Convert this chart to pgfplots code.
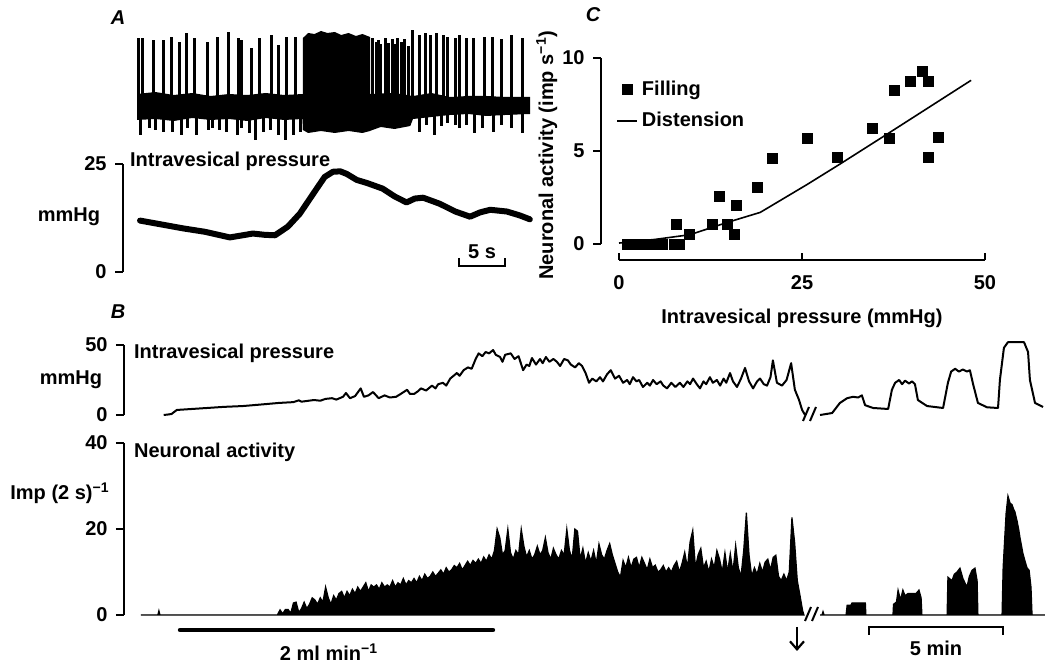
\documentclass[border=0pt]{standalone}
\usepackage{pgfplots}
\pgfplotsset{compat=1.18}
\usepackage{fontspec}
\setmainfont{Liberation Sans}
\usetikzlibrary{arrows.meta}

\newcommand{\lab}{\fontsize{10}{12}\selectfont\bfseries}

\pgfplotsset{
  trace/.style={scale only axis, clip=false, anchor=south west,
    axis line style={line width=1.2pt, -},
    tick style={black, line width=1.2pt},
    tick label style={font=\lab},
    label style={font=\lab},
    /pgf/number format/assume math mode=true},
  bracket/.style={trace, axis x line=none, axis y line*=left,
    tick align=outside, major tick length=4pt,
    yticklabel style={anchor=east, inner sep=0pt, xshift=-4pt}},
  bare/.style={trace, axis lines=none},
  sqlegend/.style={legend image code/.code={\draw[##1, mark repeat=2, mark phase=2]
    plot coordinates {(0pt,0pt) (5pt,0pt) (10pt,0pt)};}},
  linelegend/.style={legend image code/.code={\draw[##1] (0pt,0pt) -- (10pt,0pt);}},
}

\begin{document}
\begin{tikzpicture}
\useasboundingbox (0pt,0pt) rectangle (523pt,-331pt);

% ---------- A: spike train (time in s, amplitude arbitrary) ----------
\begin{axis}[bare, at={(68.5pt,-73pt)}, width=196.5pt, height=60pt,
  xmin=0, xmax=42.72, ymin=-40, ymax=80]
% noise band
\addplot[fill=black, draw=none] coordinates {
  (0,12) (2,14) (4,11) (6,13) (8,10) (10,12) (12,11) (14,13) (16,11) (18.04,12)
  (25.3,12) (28,13) (30,10) (32,13) (34,9) (36,10) (38,10) (40,9) (42,9) (42.72,9)
  (42.72,-8) (40,-9) (38,-10) (36,-8) (34,-9) (32,-11) (30,-13) (29.7,-20)
  (28,-23) (26.5,-21) (25.3,-25) (18.04,-24) (18,-13) (16,-14) (14,-12) (12,-15)
  (10,-13) (8,-14) (6,-12) (4,-15) (2,-13) (0,-14)};
% dense burst
\addplot[fill=black, draw=none] coordinates {
  (18.04,-24) (18.04,68) (18.6,73) (19.3,72) (20,75) (20.7,73) (21.5,74) (22.2,71)
  (23,73) (23.8,70) (24.5,72) (25.33,69) (25.33,-25) (24.5,-27) (23,-25)
  (21.5,-27) (20,-25) (18.6,-27)};
% upward spikes
\addplot[ycomb, line width=1.5pt] table {
  t h
  0.11 68
  0.65 68
  1.74 66
  2.83 66
  3.80 69
  4.57 64
  5.43 73
  6.30 68
  7.61 64
  8.80 69
  10.00 74
  10.98 68
  11.41 66
  12.50 58
  13.37 68
  14.67 71
  15.33 61
  16.30 69
  17.28 69
  25.65 68
  25.98 64
  26.20 66
  26.52 62
  26.96 68
  27.30 63
  27.72 67
  28.05 62
  28.37 68
  28.70 64
  29.13 67
  29.55 60
  30.00 76
  30.76 71
  31.41 73
  31.85 71
  32.61 73
  33.37 71
  33.80 69
  34.57 68
  35.11 71
  35.87 68
  36.63 68
  37.72 69
  38.59 69
  39.57 67
  40.76 71
  41.85 68
};
% downward spikes
\addplot[ycomb, line width=1.5pt] table {
  t d
  0.33 -29
  1.41 -22
  1.96 -24
  2.83 -26
  3.91 -26
  4.89 -29
  5.54 -22
  6.52 -29
  7.72 -24
  8.26 -22
  9.02 -24
  9.78 -26
  10.87 -29
  11.41 -22
  12.28 -27
  12.83 -34
  13.70 -26
  14.46 -24
  15.33 -29
  16.09 -34
  16.96 -29
  17.72 -26
  29.67 -19
  30.76 -26
  31.52 -19
  32.39 -29
  33.15 -20
  33.80 -17
  34.57 -19
  35.11 -22
  35.87 -19
  36.74 -27
  37.61 -22
  38.70 -26
  39.67 -19
  40.76 -22
  41.85 -27
};
\end{axis}

% ---------- A: intravesical pressure ----------
\begin{axis}[bracket, at={(61.5pt,-136pt)}, width=203.5pt, height=54pt,
  xmin=-1.52, xmax=42.72, ymin=0, ymax=25, ytick={0,25}]
\addplot[line width=3pt, line cap=round, line join=round] coordinates {
  (0.33,11.9) (5.0,10.1) (7.4,9.3) (10.1,8.0) (12.6,8.9) (13.9,8.6) (15.0,8.5)
  (16.4,10.5) (17.7,13.5) (19.6,19.5) (20.4,22.0) (21.3,23.2) (22.1,23.3)
  (22.8,22.7) (23.9,21.3) (25.0,20.6) (26.7,19.3) (28.0,17.5) (29.3,16.1)
  (30.2,17.0) (31.1,17.2) (32.9,15.8) (34.6,14.0) (36.2,12.8) (37.3,13.8)
  (38.4,14.4) (40.2,14.0) (41.6,13.1) (42.7,12.2)};
\end{axis}

% ---------- B: intravesical pressure (time in min) ----------
\begin{axis}[bracket, at={(62pt,-207.5pt)}, width=461pt, height=35pt,
  xmin=-0.522, xmax=33.88, ymin=0, ymax=50, ytick={0,50}]
\addplot[line width=1pt, line join=round] coordinates {
  (0.96,0) (1.1,0.3) (1.25,0.7) (1.45,3.6) (2.57,5) (3.2,5.8) (3.92,6.4)
  (4.6,7.5) (5.25,8.6) (5.8,9.2) (6.0,10.5) (6.1,9.5) (6.57,10.7) (6.8,10.2)
  (7.0,11.5) (7.24,12) (7.4,11) (7.65,13) (7.76,15.7) (7.91,12) (8.1,13.5)
  (8.31,19) (8.43,13) (8.6,14) (8.77,16.4) (8.98,12) (9.2,14) (9.4,12.5)
  (9.63,13) (9.8,15) (10.04,18) (10.15,15) (10.3,15) (10.45,17) (10.56,19)
  (10.75,17.5) (10.97,21) (11.1,19) (11.2,22) (11.38,23) (11.5,21) (11.65,26)
  (11.9,30) (12.0,28) (12.15,32) (12.31,34) (12.45,33) (12.6,40) (12.71,44)
  (12.85,42) (12.97,45) (13.1,44) (13.25,46.4) (13.35,43) (13.51,41.4)
  (13.6,38) (13.7,43) (13.91,44) (14.05,40) (14.2,42) (14.37,32) (14.5,36)
  (14.6,35) (14.70,40.7) (14.85,36) (15.0,40) (15.1,37) (15.22,41.4)
  (15.35,38) (15.5,40) (15.63,38) (15.75,35) (15.9,40) (16.04,39) (16.15,36)
  (16.31,34) (16.45,37) (16.57,35) (16.7,30) (16.83,23) (16.95,26) (17.1,24)
  (17.24,27) (17.35,24) (17.5,29) (17.64,32) (17.8,26) (17.95,28) (18.10,23)
  (18.25,25) (18.35,22) (18.47,27) (18.6,24) (18.7,25) (18.84,20) (19.0,23)
  (19.1,21) (19.22,25) (19.35,22) (19.5,24) (19.6,21) (19.74,19) (19.9,23)
  (20.05,20) (20.22,23) (20.35,20) (20.5,24) (20.6,22) (20.71,26) (20.85,22)
  (20.97,19) (21.1,24) (21.2,22) (21.34,27) (21.45,23) (21.6,25) (21.72,21)
  (21.85,26) (21.95,23) (22.09,30) (22.2,24) (22.35,20) (22.5,26) (22.65,33.6)
  (22.8,24) (22.95,19) (23.1,24) (23.21,26) (23.35,22) (23.47,21) (23.6,27)
  (23.69,39) (23.84,23) (24.03,21) (24.2,25) (24.37,37) (24.51,18) (24.66,11)
  (24.78,3.6) (24.89,0)};
\addplot[line width=1pt, line join=round] coordinates {
  (25.45,0) (25.90,1.4) (26.19,8.6) (26.46,12) (26.68,13) (26.87,12.5)
  (27.01,14) (27.13,7) (27.43,5) (27.99,4.3) (28.13,18) (28.25,23) (28.40,25)
  (28.51,22) (28.62,24.5) (28.77,22.5) (28.88,24) (28.99,22) (29.10,10.7)
  (29.44,6.4) (30.04,5) (30.22,23) (30.34,31) (30.49,33) (30.63,31)
  (30.78,32.5) (30.93,31) (31.04,32) (31.16,22) (31.34,8.6) (31.68,5.5)
  (32.09,5) (32.16,25) (32.31,48) (32.46,52) (33.06,52) (33.21,45) (33.28,25)
  (33.47,8.6) (33.77,5.7)};
\end{axis}

% ---------- B: neuronal activity ----------
\begin{axis}[bracket, at={(62pt,-307.5pt)}, width=461pt, height=86pt,
  xmin=-0.522, xmax=33.88, ymin=0, ymax=40, ytick={0,20,40}]
\addplot[fill=black, draw=black, line width=0.6pt, line join=miter] coordinates {
  (0.11,0) (0.74,0) (0.78,1) (0.82,0) (5.2,0)
  (5.3,1.2) (5.4,0.3) (5.5,1.3) (5.6,1.3) (5.7,0.4) (5.8,2.8) (5.9,3) (6.0,0.6)
  (6.1,1.5) (6.2,3) (6.3,1.5) (6.4,2.5) (6.5,4) (6.6,3.5) (6.7,2.5) (6.8,4)
  (6.9,3) (7.0,6.5) (7.1,4) (7.2,2.5) (7.3,4.5) (7.4,3.5) (7.5,5) (7.6,5.5)
  (7.7,4) (7.8,5.5) (7.9,4.5) (8.0,6) (8.1,5) (8.2,6.5) (8.3,5.5) (8.4,6.5)
  (8.5,7.5) (8.6,5.5) (8.7,7) (8.8,6.5) (8.9,7) (9.0,6) (9.1,7.5) (9.2,6.5)
  (9.3,7) (9.4,6.5) (9.5,8) (9.6,6.5) (9.7,7.5) (9.8,7) (9.9,8.5) (10.0,7)
  (10.1,8) (10.2,7.5) (10.3,8.5) (10.4,7.5) (10.5,9) (10.6,8) (10.7,9.5)
  (10.8,8.5) (10.9,9) (11.0,10) (11.1,9) (11.2,9.7) (11.3,10.5) (11.4,9.5)
  (11.5,11) (11.6,10) (11.7,10.5) (11.8,11.5) (11.9,11) (12.0,12) (12.1,10.5)
  (12.2,11.5) (12.3,12.5) (12.4,11.5) (12.5,12.7) (12.6,12) (12.7,13) (12.8,12)
  (12.9,13.5) (13.0,12.5) (13.1,14) (13.2,13) (13.3,15) (13.4,20) (13.5,18)
  (13.6,14) (13.7,15) (13.8,20) (13.9,14.5) (14.0,13) (14.1,15) (14.2,14)
  (14.3,20) (14.4,16) (14.5,13.5) (14.6,15) (14.7,13) (14.8,14) (14.9,16)
  (15.0,14) (15.1,15) (15.2,18) (15.3,14.5) (15.4,13) (15.5,15.5) (15.6,14)
  (15.7,13) (15.8,15) (15.9,14) (16.0,20) (16.1,15) (16.2,13) (16.3,20)
  (16.4,19.5) (16.5,13) (16.6,15.5) (16.7,12) (16.8,14.5) (16.9,12.5) (17.0,15)
  (17.1,12) (17.2,16.5) (17.3,14) (17.4,13) (17.5,15) (17.6,16.6) (17.7,14)
  (17.8,12) (17.9,10) (18.0,8.8) (18.1,12.7) (18.2,11) (18.3,13.4) (18.4,11)
  (18.5,13) (18.6,13.4) (18.7,11) (18.8,13.4) (18.9,12) (19.0,10.5) (19.1,13)
  (19.2,11) (19.3,11.6) (19.4,10) (19.5,10.5) (19.6,11.5) (19.7,10) (19.8,11)
  (19.9,10) (20.0,11.5) (20.1,12.5) (20.2,10) (20.3,12) (20.4,14.6) (20.5,11)
  (20.6,17) (20.7,19.7) (20.8,11) (20.9,14) (21.0,15.5) (21.1,11) (21.2,12.5)
  (21.3,10) (21.4,13) (21.5,11) (21.6,15) (21.7,13) (21.8,10) (21.9,14.5)
  (22.0,10) (22.1,14.3) (22.2,10) (22.3,16.2) (22.4,11) (22.5,9) (22.6,15)
  (22.7,23.8) (22.8,14) (22.9,9) (23.0,11) (23.1,9.5) (23.2,12) (23.3,10)
  (23.4,12.3) (23.5,13) (23.6,10.5) (23.7,13.4) (23.8,13.9) (23.9,9) (24.0,8)
  (24.1,9.5) (24.2,8) (24.3,10) (24.4,22.7) (24.5,17) (24.6,8) (24.7,4.6)
  (24.8,1) (24.85,0)} \closedcycle;
\addplot[fill=black, draw=black, line width=0.6pt] coordinates {
  (25.45,0) (25.52,0) (25.56,0.8) (25.60,0) (26.42,0) (26.46,2.3) (26.60,2.3)
  (26.64,2.8) (27.14,2.8) (27.16,0) (28.17,0) (28.19,2.5) (28.30,3) (28.36,5.8)
  (28.45,3.5) (28.54,5.8) (28.62,4.5) (28.73,5) (28.88,5) (29.03,5) (29.14,5.8)
  (29.22,4) (29.25,0) (30.19,0) (30.22,8.8) (30.37,8) (30.46,9.5) (30.56,10)
  (30.67,10.9) (30.78,8.5) (30.93,6.5) (31.02,9) (31.12,10.4) (31.23,10.9)
  (31.31,8) (31.34,0) (32.24,0) (32.28,11) (32.34,18) (32.39,23.6) (32.46,27.7)
  (32.54,26) (32.61,25.7) (32.68,24.5) (32.72,24) (32.80,21.9) (32.86,20)
  (32.91,18) (32.97,16) (33.02,14.3) (33.10,12.5) (33.17,11) (33.25,10.4)
  (33.32,6.5) (33.36,0) (33.84,0)} \closedcycle;
\end{axis}

% ---------- C: activity vs pressure ----------
\begin{axis}[trace, at={(300.5pt,-122pt)}, width=192pt, height=93pt,
  xmin=-2.46, xmax=50, ymin=0, ymax=10,
  axis x line=none, axis y line*=left,
  ytick={0,5,10}, tick align=outside, major tick length=4pt,
  yticklabel style={anchor=east, inner sep=0pt, xshift=-4pt},
  ylabel={Neuronal activity (imp s\textsuperscript{−1})},
  ylabel style={at={(axis description cs:-0.141,0.478)}, anchor=center},
  legend style={draw=none, fill=none, at={(axis description cs:0.039,0.90)},
    anchor=north west, font=\lab, row sep=3pt, inner sep=0pt,
    cells={anchor=west}}]
\addplot[only marks, mark=square*, mark size=2.5pt, sqlegend] coordinates {
  (1.2,0) (1.8,0) (2.4,0) (3.0,0) (3.6,0) (4.2,0) (4.8,0) (5.4,0) (5.9,0)
  (7.6,0) (8.3,0)
  (7.8,1.08) (9.6,0.54) (12.8,1.08) (13.7,2.58) (14.8,1.08) (15.8,0.54)
  (16.1,2.10) (18.9,3.06) (21.0,4.62) (25.7,5.70) (29.9,4.68) (34.6,6.24)
  (36.9,5.70) (37.6,8.28) (39.8,8.76) (41.4,9.30) (42.2,8.76) (42.2,4.68)
  (43.7,5.75)};
\addlegendentry{Filling}
\addplot[line width=0.8pt, linelegend] coordinates {
  (0,0.05) (5,0.25) (9.7,0.5) (14.7,1.15) (19.3,1.7) (25.7,3.2) (30.2,4.3)
  (36.6,5.9) (48.1,8.8)};
\addlegendentry{Distension}
\end{axis}
\begin{axis}[trace, at={(309.5pt,-130pt)}, width=183pt, height=10pt,
  xmin=0, xmax=50, ymin=0, ymax=1,
  axis y line=none, axis x line*=bottom,
  xtick={0,25,50}, tick align=inside, major tick length=3.5pt,
  xticklabel style={anchor=center, yshift=-11.5pt},
  xlabel={Intravesical pressure (mmHg)},
  xlabel style={at={(axis description cs:0.5,0)}, anchor=center, yshift=-29pt}]
\end{axis}

% ---------- annotations (pixel coordinates) ----------
\begin{scope}[x=0.5pt, y=-0.5pt]
\node[font=\lab\itshape] at (118,18) {A};
\node[font=\lab\itshape] at (118,312) {B};
\node[font=\lab\itshape] at (593,15) {C};
\node[font=\lab, anchor=west] at (123,161) {Intravesical pressure};
\node[font=\lab] at (69,217) {mmHg};
\draw[line width=1pt] (459,258) -- (459,266) -- (505,266) -- (505,258);
\node[font=\lab] at (482,252) {5 s};
\node[font=\lab, anchor=west] at (127,353) {Intravesical pressure};
\node[font=\lab] at (71,380) {mmHg};
\node[font=\lab, anchor=west] at (127,452) {Neuronal activity};
\node[font=\lab] at (60,493) {Imp (2 s)\textsuperscript{−1}};
\draw[line width=1pt] (803,421) -- (809,407) (810,421) -- (816,407);
\draw[line width=1pt] (805,621) -- (811,607) (812,621) -- (818,607);
\draw[line width=2.2pt, line cap=round] (180,630) -- (493,630);
\node[font=\lab] at (329,652) {2 ml min\textsuperscript{−1}};
\draw[-{Straight Barb[length=4pt,width=7pt]}, line width=1.1pt] (797,627) -- (797,651);
\draw[line width=1pt] (869,635) -- (869,627) -- (1003,627) -- (1003,635);
\node[font=\lab] at (936,648) {5 min};
\end{scope}
\end{tikzpicture}
\end{document}
